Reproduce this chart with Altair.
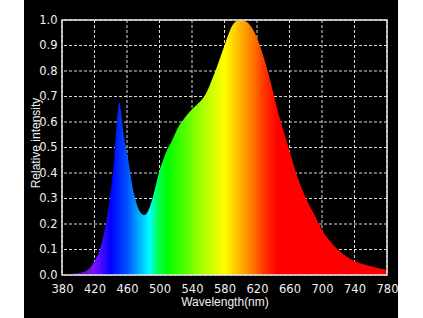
import altair as alt
import pandas as pd

# Spectrum data
wavelength = [380, 390, 400, 405, 410, 415, 420, 425, 430, 435, 440, 444, 447, 449, 450.5,
              452, 454, 456, 458, 461, 464, 467, 470, 474, 478, 481, 485, 490, 495,
              500, 505, 510, 515, 520, 525, 530, 535, 540, 545, 550, 555, 560, 565, 570,
              575, 580, 585, 590, 595, 600, 605, 610, 615, 620, 625, 630, 635, 640, 645,
              650, 655, 660, 665, 670, 675, 680, 685, 690, 700, 710, 720, 730, 740, 750,
              760, 770, 780]
intensity = [0.004, 0.005, 0.008, 0.011, 0.017, 0.03, 0.055, 0.085, 0.14, 0.22, 0.33, 0.45, 0.58, 0.65, 0.677,
             0.655, 0.60, 0.55, 0.51, 0.46, 0.40, 0.34, 0.30, 0.26, 0.24, 0.235, 0.245, 0.285, 0.345,
             0.41, 0.455, 0.495, 0.525, 0.56, 0.59, 0.612, 0.632, 0.65, 0.665, 0.68, 0.70, 0.73, 0.77, 0.81,
             0.855, 0.90, 0.945, 0.98, 0.996, 1.0, 0.996, 0.985, 0.963, 0.93, 0.885, 0.835, 0.777, 0.715, 0.65,
             0.592, 0.54, 0.487, 0.433, 0.382, 0.34, 0.303, 0.27, 0.24, 0.176, 0.132, 0.098, 0.073, 0.055, 0.043,
             0.034, 0.026, 0.02]

x_ticks = [380, 420, 460, 500, 540, 580, 620, 660, 700, 740, 780]
y_ticks = [0.0, 0.1, 0.2, 0.3, 0.4, 0.5, 0.6, 0.7, 0.8, 0.9, 1.0]

# Spectral colour stops (wavelength -> colour)
stop_wl = [380, 400, 420, 440, 460, 475, 488, 497, 510, 535, 555, 580, 600, 615, 630, 645, 780]
stop_col = ["#1a0030", "#5a10a0", "#7a10ff", "#0000ff", "#0050ff", "#00b0ff", "#00ffff", "#00ff60",
            "#00ff00", "#60ff00", "#b0ff00", "#ffff00", "#ffb000", "#ff7800", "#ff3000", "#ff0000", "#ff0000"]

W, H = 325, 255

spec = pd.DataFrame({"wl": wavelength, "v": intensity})
xt = pd.DataFrame({"wl": x_ticks})
yt = pd.DataFrame({"v": y_ticks})
one = pd.DataFrame({"a": [0]})

xscale = alt.Scale(domain=[380, 780], nice=False, zero=False)
yscale = alt.Scale(domain=[0, 1], nice=False)

xaxis = alt.Axis(values=x_ticks, title="Wavelength(nm)", format="d", labelFlush=False,
                 labelPadding=8, titleY=30.5, titleBaseline="alphabetic")
yaxis = alt.Axis(values=y_ticks, title="Relative intensity", format=".1f", labelFlush=False,
                 labelPadding=5, titleX=-23, titleY=122.5, titleBaseline="alphabetic")

gradient = alt.Gradient(
    gradient="linear",
    stops=[alt.GradientStop(offset=(w - 380) / 400, color=c) for w, c in zip(stop_wl, stop_col)],
    x1=0, x2=1, y1=0, y2=0,
)

# white page margins left and right of the black panel
side_l = alt.Chart(one).mark_rect(color="white").encode(
    x=alt.value(-63), x2=alt.value(-38), y=alt.value(-21), y2=alt.value(299)
)
side_r = alt.Chart(one).mark_rect(color="white").encode(
    x=alt.value(336), x2=alt.value(362), y=alt.value(-21), y2=alt.value(299)
)

vgrid = alt.Chart(xt).mark_rule(color="#d8d8d8", strokeDash=[3, 2], strokeWidth=1).encode(
    x=alt.X("wl:Q", scale=xscale, axis=xaxis)
)
hgrid = alt.Chart(yt).mark_rule(color="#d8d8d8", strokeDash=[3, 2], strokeWidth=1).encode(
    y=alt.Y("v:Q", scale=yscale, axis=yaxis)
)

area = alt.Chart(spec).mark_area(interpolate="monotone", color=gradient).encode(
    x=alt.X("wl:Q", scale=xscale, axis=xaxis),
    y=alt.Y("v:Q", scale=yscale, axis=yaxis),
)

border = alt.Chart(one).mark_rect(filled=False, stroke="#e8e8e8", strokeWidth=1.5).encode(
    x=alt.value(0), x2=alt.value(W), y=alt.value(0), y2=alt.value(H)
)

chart = alt.layer(side_l, side_r, vgrid, hgrid, area, border).properties(
    width=W, height=H,
    padding={"left": 62, "top": 20, "right": 36, "bottom": 43},
    autosize=alt.AutoSizeParams(type="none"),
    background="black",
).configure_view(stroke=None).configure_axis(
    grid=False, ticks=False, domain=False,
    labelColor="#f0f0f0", titleColor="#f0f0f0",
    labelFont="DejaVu Sans", titleFont="Liberation Sans",
    labelFontSize=11.5, titleFontSize=12, titleFontWeight="normal",
)

chart.save("out.html", embed_options={"renderer": "svg", "actions": False})
